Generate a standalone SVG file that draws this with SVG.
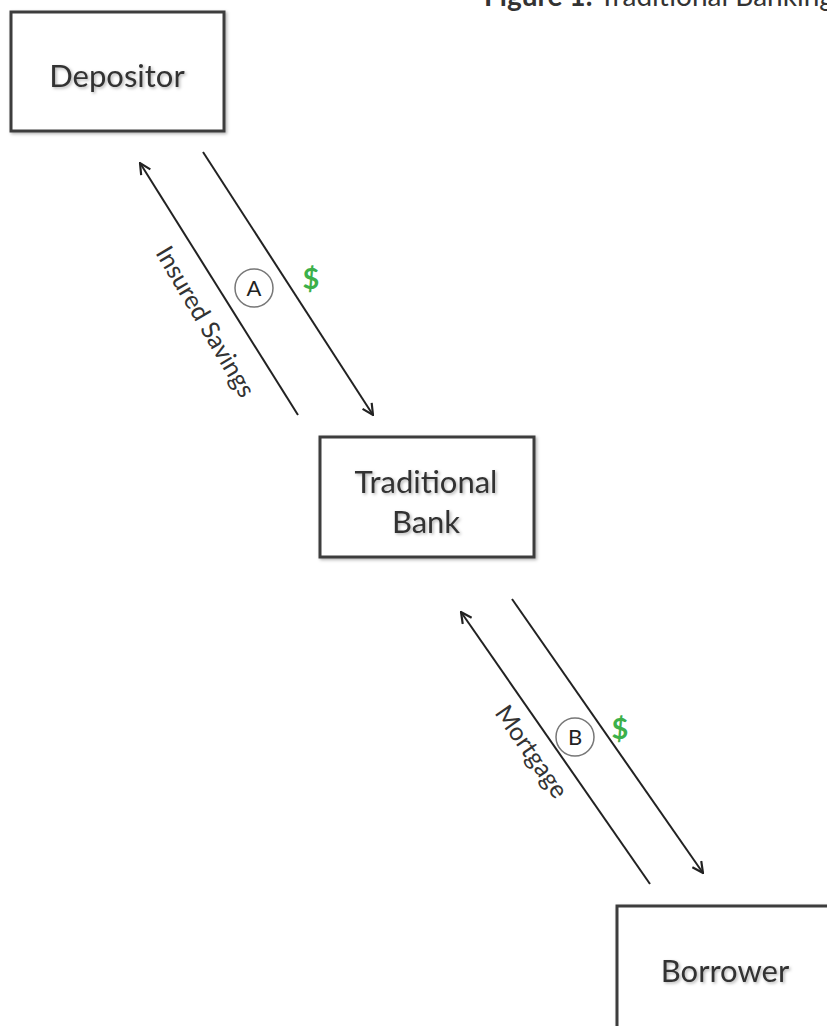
<svg xmlns="http://www.w3.org/2000/svg" width="827" height="1026" viewBox="0 0 827 1026">
<style>
.box{fill:#fff;stroke:#3d3d3d;stroke-width:3}
.lbl{font-family:Lato,"Open Sans",sans-serif;font-size:31px;fill:#333;text-anchor:middle}
.edge{stroke:#222;stroke-width:2;fill:none}
.elbl{font-family:Lato,"Open Sans",sans-serif;font-size:25px;fill:#333;text-anchor:middle}
.dollar{font-family:Lato,"Open Sans",sans-serif;font-size:29px;fill:#3cb04a;text-anchor:middle;font-weight:bold}
.circ{fill:#fff;stroke:#777;stroke-width:1.5}
.ctext{font-family:Lato,"Open Sans",sans-serif;font-size:22px;fill:#222;text-anchor:middle}
</style>
<defs>
<marker id="ah" viewBox="0 0 12 12" refX="11" refY="6" markerWidth="13" markerHeight="13" markerUnits="userSpaceOnUse" orient="auto">
<path d="M1,1 L11,6 L1,11" fill="none" stroke="#222" stroke-width="2"/>
</marker>
<filter id="sh" x="-10%" y="-10%" width="130%" height="130%">
<feDropShadow dx="1.5" dy="1.5" stdDeviation="1.5" flood-color="#000" flood-opacity="0.3"/>
</filter>
</defs>
<g id="title">
<text x="484" y="6" font-family="Lato,'Open Sans',sans-serif" font-size="28" fill="#333"><tspan font-weight="bold">Figure 1:</tspan> Traditional Banking</text>
</g>
<g id="depositor">
<rect class="box" x="11" y="12" width="213" height="119" filter="url(#sh)"/>
<text class="lbl" x="117" y="87" filter="url(#sh)">Depositor</text>
</g>
<g id="bank">
<rect class="box" x="320" y="437" width="214" height="120" filter="url(#sh)"/>
<text class="lbl" x="426" y="493" filter="url(#sh)">Traditional</text>
<text class="lbl" x="426" y="533" filter="url(#sh)">Bank</text>
</g>
<g id="borrower">
<rect class="box" x="617" y="906" width="220" height="130" filter="url(#sh)"/>
<text class="lbl" x="725" y="982" filter="url(#sh)">Borrower</text>
</g>
<g id="connectors">
<line class="edge" x1="298" y1="415" x2="140" y2="163" marker-end="url(#ah)"/>
<line class="edge" x1="203" y1="152" x2="373" y2="415" marker-end="url(#ah)"/>
<line class="edge" x1="650" y1="884" x2="461" y2="612" marker-end="url(#ah)"/>
<line class="edge" x1="512" y1="599" x2="703" y2="873" marker-end="url(#ah)"/>
<text class="elbl" transform="translate(205,322) rotate(59.5)" dy="8">Insured Savings</text>
<text class="elbl" transform="translate(531,752) rotate(55)" dy="8">Mortgage</text>
<text class="dollar" x="311" y="289">$</text>
<text class="dollar" x="620" y="739">$</text>
</g>
<g id="markerA">
<circle class="circ" cx="254" cy="288" r="19"/>
<text class="ctext" x="254" y="296">A</text>
</g>
<g id="markerB">
<circle class="circ" cx="575" cy="737" r="19"/>
<text class="ctext" x="575" y="745">B</text>
</g>
</svg>
